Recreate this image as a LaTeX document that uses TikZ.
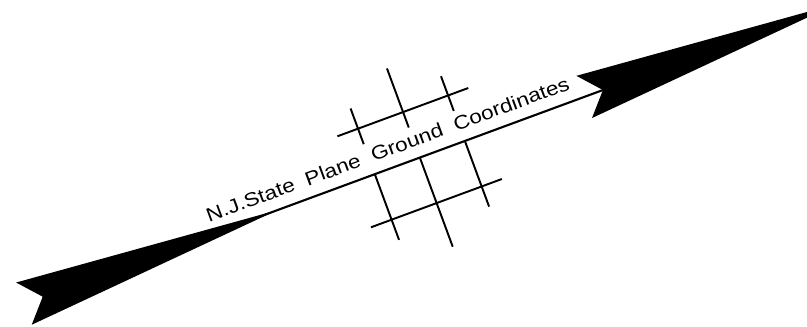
\documentclass[tikz,border=0pt]{standalone}
\usepackage{fontspec}
\setmainfont{Liberation Sans}
\usetikzlibrary{positioning}
\tikzset{
  axisline/.style={line width=1.2pt, black},
  gridline/.style={line width=1.1pt, black},
  planelabel/.style={font=\fontsize{11}{13}\selectfont, transform shape, xscale=1.17,
                     inner sep=0pt, anchor=base},
}

\begin{document}
\begin{tikzpicture}[x=0.02cm, y=0.02cm]
  \useasboundingbox (0,0) rectangle (807,326);
  \begin{scope}[shift={(42.7,29.3)}, rotate=20.25]
    % Axis with both darts
    \coordinate (tail) at (0,0);
    \coordinate (head) at (597.2,0);
    \draw[axisline] (tail) -- (head);
    \fill (-20,22.5) -- (tail) -- (-20,-22.5) -- (249.5,0) -- cycle;
    \fill (577.2,22.5) -- (head) -- (577.2,-22.5) -- (846.7,0) -- cycle;

    % Label along the axis
    \node[planelabel] (title) at (374.5,12)
      {\spaceskip=0.55em N.J.State Plane Ground Coordinates};

    % Grid above the axis
    \draw[gridline] (332,48.5) -- (471.5,48.5);
    \draw[gridline] (354,32) -- (354,70);
    \draw[gridline] (402,32) -- (402,95);
    \draw[gridline] (450,32) -- (450,69);

    % Grid below the axis
    \draw[gridline] (332,-48.5) -- (471.5,-48.5);
    \draw[gridline] (354,0) -- (354,-70);
    \draw[gridline] (402,0) -- (402,-95);
    \draw[gridline] (450,0) -- (450,-70);
  \end{scope}
\end{tikzpicture}
\end{document}
